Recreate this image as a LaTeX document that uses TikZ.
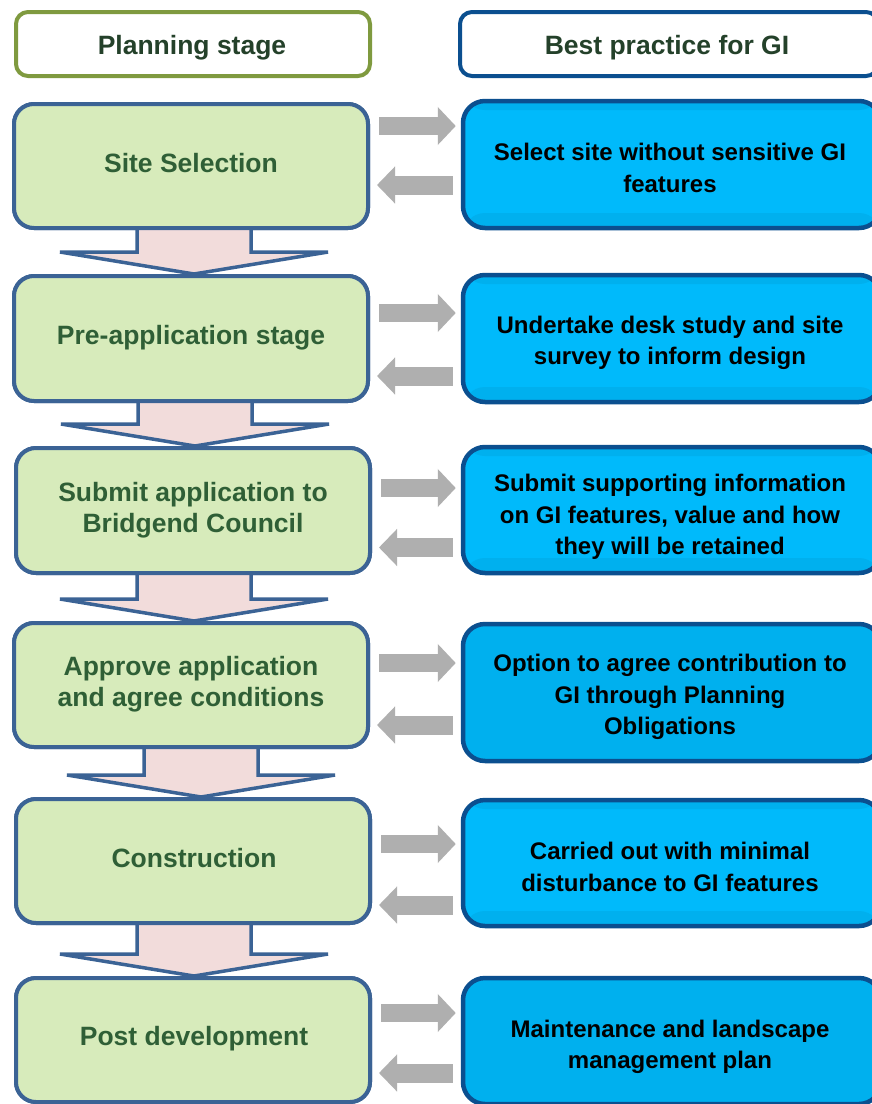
\documentclass[tikz,border=0pt]{standalone}
\usepackage{fontspec}
\setmainfont{Liberation Sans}
\usetikzlibrary{calc,arrows.meta}
\definecolor{lfill}{HTML}{D7EBBB}
\definecolor{lborder}{HTML}{3B6395}
\definecolor{rfill}{HTML}{00BAFB}
\definecolor{rfillb}{HTML}{00B0EE}
\definecolor{rborder}{HTML}{0B4F8F}
\definecolor{hgreen}{HTML}{7F9A3F}
\definecolor{txtgreen}{HTML}{2F5F36}
\definecolor{htxt}{HTML}{24412A}
\definecolor{garrow}{HTML}{AFAFAF}
\definecolor{pinkfill}{HTML}{F2DCDB}
\tikzset{
  hdrL/.style={draw=hgreen, line width=4pt, fill=white, rounded corners=12pt,
    minimum width=354pt, minimum height=64pt, inner sep=0pt},
  hdrR/.style={hdrL, draw=rborder, minimum width=418pt},
  hdrtext/.style={font=\bfseries\fontsize{26.5}{30}\selectfont, text=htxt, inner sep=0pt},
  stagebox/.style={draw=lborder, line width=4pt, fill=lfill, rounded corners=20pt,
    minimum width=354pt, minimum height=124pt, inner sep=0pt},
  stagetext/.style={align=center, inner sep=0pt,
    font=\bfseries\fontsize{26.5}{31}\selectfont, text=txtgreen},
  gibox/.style={draw=rborder, line width=4.5pt, fill=rfill, rounded corners=22pt,
    minimum width=418pt, minimum height=126pt, inner sep=0pt},
  banded/.style={path picture={
    \fill[rfillb] (path picture bounding box.north west) rectangle
      ($(path picture bounding box.north east)+(0,9)$);
    \fill[rfillb] (path picture bounding box.south west) rectangle
      ($(path picture bounding box.south east)+(0,-15)$);}},
  gitext/.style={align=center, inner sep=0pt,
    font=\bfseries\fontsize{24}{31.5}\selectfont, text=black},
  toright/.style={draw=garrow, line width=18pt, -{Triangle[width=37pt,length=18pt]},
    shorten <=9pt, shorten >=5pt},
  toleft/.style={draw=garrow, line width=19pt, -{Triangle[width=36pt,length=18pt]},
    shorten <=8pt, shorten >=7pt},
  flow/.style={draw=lborder, line width=3.5pt, fill=pinkfill, line join=miter}
}
\newcommand\dnarrow[3]{%
  \coordinate (tip) at ($(#1.south |- #2.north)+(#3,0)$);
  \coordinate (top) at ($(#1.south)+(#3,-6)$);
  \path[flow] ($(top)+(-57,0)$) -- ($(tip)+(-57,-22)$) -- ($(tip)+(-134,-22)$)
    -- (tip) -- ($(tip)+(134,-22)$) -- ($(tip)+(57,-22)$) -- ($(top)+(57,0)$);
}
\begin{document}
\begin{tikzpicture}[x=1pt,y=-1pt]
\clip (0,0) rectangle (872,1104);
\fill[white] (0,0) rectangle (872,1104);
% headers
\node[hdrL] (hL) at (193,44) {};
\node[hdrR] (hR) at (669,44) {};
\node[hdrtext] (hLt) at (192,48) {Planning stage};
\node[hdrtext] (hRt) at (667,48) {Best practice for GI};
% planning stages (positions only)
\path (191,166) coordinate (pL1) (191,338.5) coordinate (pL2) (193,510.5) coordinate (pL3)
      (191,685) coordinate (pL4) (193,861) coordinate (pL5) (193,1040) coordinate (pL6);
\node[stagebox, minimum height=124pt] (L1) at (pL1) {};
\node[stagebox, minimum height=125pt] (L2) at (pL2) {};
\node[stagebox, minimum height=125pt] (L3) at (pL3) {};
\node[stagebox, minimum height=124pt] (L4) at (pL4) {};
\node[stagebox, minimum height=124pt] (L5) at (pL5) {};
\node[stagebox, minimum height=124pt] (L6) at (pL6) {};
% flow arrows (drawn, then boxes redrawn on top)
\dnarrow{L1}{L2}{3}
\dnarrow{L2}{L3}{4}
\dnarrow{L3}{L4}{1}
\dnarrow{L4}{L5}{10}
\dnarrow{L5}{L6}{1}
\node[stagebox, minimum height=124pt] (L1b) at (pL1) {};
\node[stagebox, minimum height=125pt] (L2b) at (pL2) {};
\node[stagebox, minimum height=125pt] (L3b) at (pL3) {};
\node[stagebox, minimum height=124pt] (L4b) at (pL4) {};
\node[stagebox, minimum height=124pt] (L5b) at (pL5) {};
\node[stagebox, minimum height=124pt] (L6b) at (pL6) {};
\node[stagetext] (L1t) at (191,163) {Site Selection};
\node[stagetext] (L2t) at (191,338) {Pre-application stage};
\node[stagetext] (L3t) at (193,510) {Submit application to\\Bridgend Council};
\node[stagetext] (L4t) at (191,684) {Approve application\\and agree conditions};
\node[stagetext] (L5t) at (194,858) {Construction};
\node[stagetext] (L6t) at (194,1039) {Post development};
% best practice boxes
\node[gibox, banded, minimum height=127pt] (R1) at (672,164.5) {};
\node[gibox, banded, minimum height=127pt] (R2) at (672,338.5) {};
\node[gibox, banded, minimum height=126pt] (R3) at (672,510) {};
\node[gibox, minimum height=137pt, fill=rfillb] (R4) at (672,692.5) {};
\node[gibox, banded, minimum height=126pt] (R5) at (672,863) {};
\node[gibox, minimum height=126pt, fill=rfillb] (R6) at (672,1041) {};
\node[gitext] (R1t) at (670,168) {Select site without sensitive GI\\features};
\node[gitext] (R2t) at (670,343) {Undertake desk study and site\\survey to inform design};
\node[gitext] (R3t) at (670,517) {Submit supporting information\\on GI features, value and how\\they will be retained};
\node[gitext] (R4t) at (670,697) {Option to agree contribution to\\GI through Planning\\Obligations};
\node[gitext] (R5t) at (670,867) {Carried out with minimal\\disturbance to GI features};
\node[gitext] (R6t) at (670,1047) {Maintenance and landscape\\management plan};
% grey exchange arrows
\draw[toright] ([yshift=40pt]L1.east) -- ([yshift=40pt]L1.east -| R1.west);
\draw[toleft] ([yshift=-19pt]L1.east -| R1.west) -- ([yshift=-19pt]L1.east);
\draw[toright] ([yshift=25.5pt]L2.east) -- ([yshift=25.5pt]L2.east -| R2.west);
\draw[toleft] ([yshift=-37.5pt]L2.east -| R2.west) -- ([yshift=-37.5pt]L2.east);
\draw[toright] ([yshift=22.5pt]L3.east) -- ([yshift=22.5pt]L3.east -| R3.west);
\draw[toleft] ([yshift=-37pt]L3.east -| R3.west) -- ([yshift=-37pt]L3.east);
\draw[toright] ([yshift=22pt]L4.east) -- ([yshift=22pt]L4.east -| R4.west);
\draw[toleft] ([yshift=-40pt]L4.east -| R4.west) -- ([yshift=-40pt]L4.east);
\draw[toright] ([yshift=17pt]L5.east) -- ([yshift=17pt]L5.east -| R5.west);
\draw[toleft] ([yshift=-44pt]L5.east -| R5.west) -- ([yshift=-44pt]L5.east);
\draw[toright] ([yshift=27pt]L6.east) -- ([yshift=27pt]L6.east -| R6.west);
\draw[toleft] ([yshift=-33pt]L6.east -| R6.west) -- ([yshift=-33pt]L6.east);
\end{tikzpicture}
\end{document}
